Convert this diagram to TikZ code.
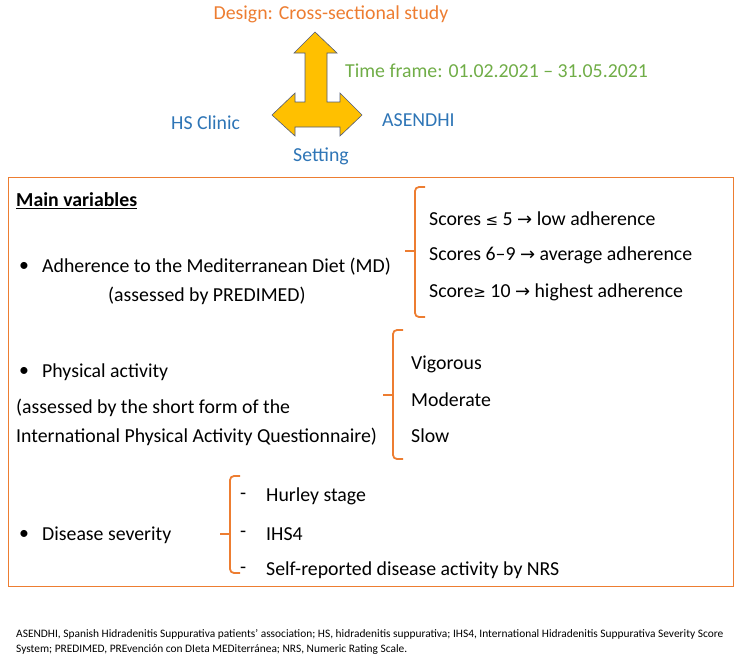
\documentclass[tikz,border=0pt]{standalone}
\usepackage{fontspec}
\setmainfont{Carlito}
\newfontfamily\symf{DejaVu Sans}
\definecolor{ora}{RGB}{237,125,49}
\definecolor{grn}{RGB}{112,173,71}
\definecolor{blu}{RGB}{46,117,182}
\definecolor{yel}{RGB}{255,192,0}
\definecolor{edg}{RGB}{80,90,120}
\newcommand{\ar}{{\symf\fontsize{18}{20}\selectfont →}}
\begin{document}
\begin{tikzpicture}[x=1pt,y=-1pt,
  txt/.style={anchor=west,inner sep=0,font=\fontsize{19.8}{22}\selectfont},
  captxt/.style={anchor=west,inner sep=0,font=\fontsize{11.4}{13}\selectfont},
  br/.style={draw=ora,line width=1.8pt,rounded corners=4pt}]
\useasboundingbox (0,0) rectangle (742,662);
% arrow
\draw[fill=yel,draw=edg,line width=0.6pt] (315,32) -- (337,53) -- (327,53) -- (327,102) -- (340,102) -- (340,93) -- (362,115) -- (340,136) -- (340,127) -- (295,127) -- (295,136) -- (272,115) -- (295,93) -- (295,102) -- (305,102) -- (305,53) -- (294,53) -- cycle;
\node[inner sep=0,text=ora,font=\fontsize{19.8}{22}\selectfont] (design) at (331,14) {Design: Cross-sectional study};
\node[txt,text=grn] (time) at (345,71) {Time frame: 01.02.2021 – 31.05.2021};
\node[txt,text=blu] (hs) at (171,123) {HS Clinic};
\node[txt,text=blu] (as) at (382,120) {ASENDHI};
\node[inner sep=0,text=blu,font=\fontsize{19.8}{22}\selectfont] (set) at (321,156) {Setting};
% box
\draw[ora,line width=0.8pt] (8,177) rectangle (733,586);
\node[txt,font=\fontsize{19.8}{22}\selectfont\bfseries] (mv) at (16,201) {\underline{Main variables}};
\node[txt] (b1) at (19,267) {•};
\node[txt] (ad) at (42,267) {Adherence to the Mediterranean Diet (MD)};
\node[txt] (ad2) at (108,296) {(assessed by PREDIMED)};
\node[txt] (s1) at (429,219) {Scores {\symf\fontsize{15}{15}\selectfont ≤} 5 \ar{} low adherence};
\node[txt] (s2) at (429,255) {Scores 6–9 \ar{} average adherence};
\node[txt] (s3) at (429,292) {Score{\symf\fontsize{15}{15}\selectfont ≥} 10 \ar{} highest adherence};
\node[txt] (b2) at (19,372) {•};
\node[txt] (pa) at (42,372) {Physical activity};
\node[txt] (pa2) at (16,408) {(assessed by the short form of the};
\node[txt] (pa3) at (16,437) {International Physical Activity Questionnaire)};
\node[txt] (v1) at (411,364) {Vigorous};
\node[txt] (v2) at (411,400) {Moderate};
\node[txt] (v3) at (411,436) {Slow};
\node[txt] (b3) at (19,535) {•};
\node[txt] (ds) at (42,535) {Disease severity};
\node[txt] (d1) at (240,496) {-};
\node[txt] (d1t) at (266,496) {Hurley stage};
\node[txt] (d2) at (240,534) {-};
\node[txt] (d2t) at (266,534) {IHS4};
\node[txt] (d3) at (240,570) {-};
\node[txt] (d3t) at (266,570) {Self-reported disease activity by NRS};
% braces
\draw[br] (425,187) -- (415,187) -- (415,317) -- (425,317);
\draw[br,rounded corners=0] (415,251) -- (405,251);
\draw[br] (403,330) -- (393,330) -- (393,459) -- (403,459);
\draw[br,rounded corners=0] (393,395) -- (383,395);
\draw[br] (240,476) -- (230,476) -- (230,573) -- (240,573);
\draw[br,rounded corners=0] (230,534) -- (220,534);
\node[captxt] (c1) at (16,634) {ASENDHI, Spanish Hidradenitis Suppurativa patients’ association; HS, hidradenitis suppurativa; IHS4, International Hidradenitis Suppurativa Severity Score};
\node[captxt] (c2) at (16,650) {System; PREDIMED, PREvención con DIeta MEDiterránea; NRS, Numeric Rating Scale.};
\end{tikzpicture}
\end{document}
